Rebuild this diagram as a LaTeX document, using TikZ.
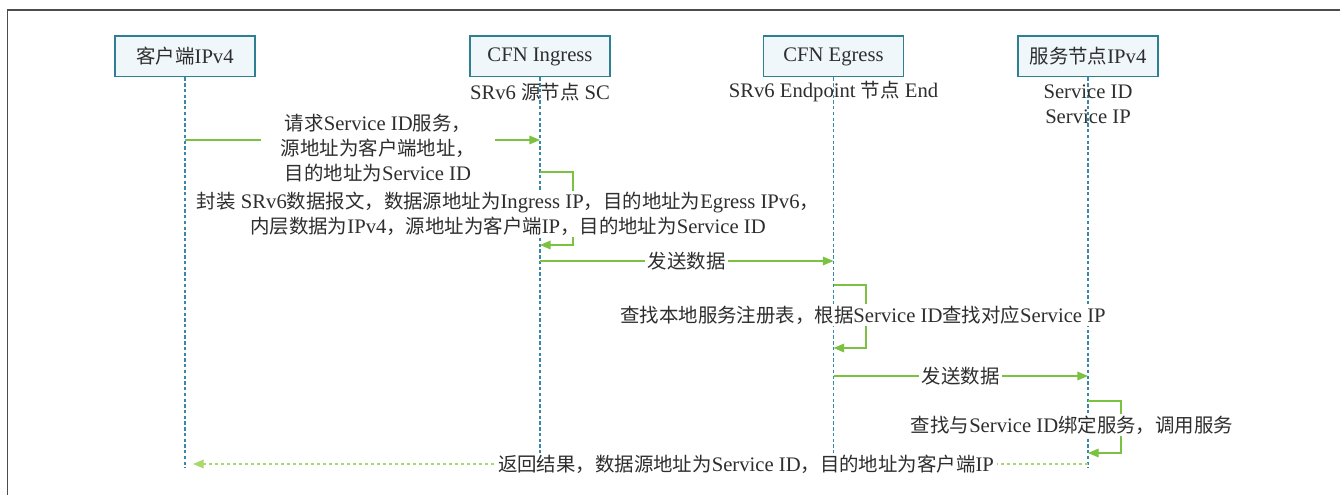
\documentclass[tikz,border=0pt]{standalone}
\usepackage{fontspec}
\setmainfont{Liberation Serif}
\newfontfamily\cjk{Noto Sans CJK SC}[Scale=0.94]
% switch to the CJK face automatically for ideographs and full-width commas
\XeTeXinterchartokenstate=1
\newXeTeXintercharclass\cjkclass
\newcount\cjkcode
\cjkcode="4E00
\loop \XeTeXcharclass\cjkcode=\cjkclass \advance\cjkcode by 1 \ifnum\cjkcode<"A000 \repeat
\XeTeXcharclass"FF0C=\cjkclass
\XeTeXinterchartoks 0 \cjkclass={\cjk}
\XeTeXinterchartoks 4095 \cjkclass={\cjk}
\XeTeXinterchartoks \cjkclass 0={\rmfamily}
\XeTeXinterchartoks \cjkclass 4095={\rmfamily}
\usetikzlibrary{arrows.meta}
\definecolor{boxline}{HTML}{2E7F92}
\definecolor{boxfill}{HTML}{EFF7FB}
\definecolor{lifeblue}{HTML}{3A88A8}
\definecolor{msggreen}{HTML}{7CC242}
\definecolor{retgreen}{HTML}{A8D86E}
\definecolor{txt}{HTML}{2E2E2E}

\begin{document}
\begin{tikzpicture}[x=0.75pt, y=-0.75pt,
  font=\fontsize{15.5}{18.75}\selectfont, text=txt,
  actor/.style={draw=boxline, fill=boxfill, line width=1pt, minimum width=105pt, minimum height=30.5pt, inner sep=0pt},
  lifeline/.style={lifeblue, line width=0.8pt, dash pattern=on 2.5pt off 1.8pt},
  msg/.style={msggreen, line width=0.9pt, -{Triangle[length=8pt,width=6.5pt]}},
  ret/.style={retgreen, line width=0.9pt, dash pattern=on 2.5pt off 2pt, -{Triangle[length=8pt,width=6.5pt]}},
  lbl/.style={fill=white, text=txt, inner xsep=2pt, inner ysep=1pt, align=center},
  role/.style={align=center, inner sep=0pt}]
  \useasboundingbox (0,0) rectangle (1340,495);
  \draw[line width=1.1pt, black!70] (1340,10) -- (7.5,10) -- (7.5,495);

  % participants and their lifelines
  \foreach \n/\x/\t in {cli/185/客户端IPv4, ing/540/CFN Ingress, egr/833.5/CFN Egress, srv/1088/服务节点IPv4}{
    \node[actor] (\n) at (\x,56.5) {\t};
    \draw[lifeline] (\n) -- (\n |- 0,468);
  }
  \node[role] (ingrole) at (540,92) {SRv6 源节点 SC};
  \node[role] (egrrole) at (833.5,92) {SRv6 Endpoint 节点 End};
  \node[role] (srvrole) at (1088,104.5) {Service ID\\Service IP};

  % request
  \draw[msg] (cli |- 0,140) -- (ing |- 0,140);
  \node[lbl, minimum width=176pt] (req) at (378,148) {请求Service ID服务，\\源地址为客户端地址，\\目的地址为Service ID};

  % SRv6 encapsulation at the ingress
  \draw[msg] (ing |- 0,172) -| (573,245) -- (ing |- 0,245);
  \node[lbl] (encap) at (508,214) {封装 SRv6数据报文，数据源地址为Ingress IP，目的地址为Egress IPv6，\\内层数据为IPv4，源地址为客户端IP，目的地址为Service ID};

  \draw[msg] (ing |- 0,261) -- (egr |- 0,261) node[lbl, midway] (send1) {发送数据};

  % lookup at the egress
  \draw[msg] (egr |- 0,285) -| (866,348) -- (egr |- 0,348);
  \node[lbl] (lookup) at (863,315) {查找本地服务注册表，根据Service ID查找对应Service IP};

  \draw[msg] (egr |- 0,376) -- (srv |- 0,376) node[lbl, midway] (send2) {发送数据};

  % service call
  \draw[msg] (srv |- 0,401) -| (1121,453) -- (srv |- 0,453);
  \node[lbl] (call) at (1072,425) {查找与Service ID绑定服务，调用服务};

  % result back to the client
  \draw[ret, shorten >=6pt] (srv |- 0,464) -- (cli |- 0,464);
  \node[lbl] (result) at (746,464) {返回结果，数据源地址为Service ID，目的地址为客户端IP};
\end{tikzpicture}
\end{document}
